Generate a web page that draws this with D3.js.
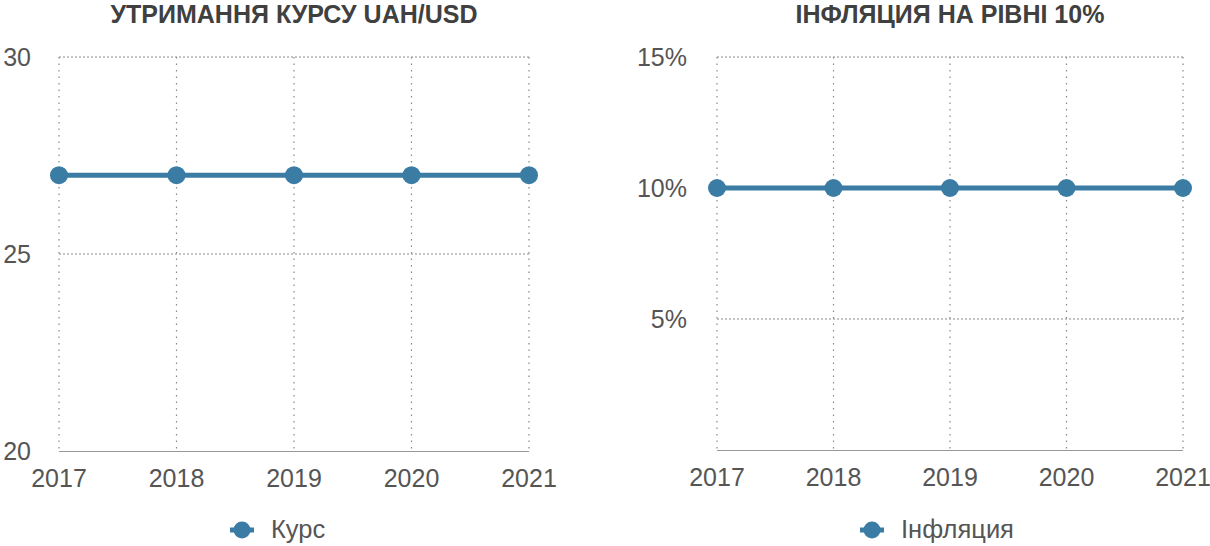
<!DOCTYPE html>
<html><head><meta charset="utf-8">
<script src="https://cdn.jsdelivr.net/npm/d3@7"></script>
<style>
body{margin:0;background:#fff;}
svg text{font-family:"Liberation Sans",Arial,sans-serif;}
</style></head>
<body><svg id="c" width="1210" height="546"></svg>
<script>
const years = ["2017","2018","2019","2020","2021"];
const rateValues = [27,27,27,27,27];
const inflationValues = [10,10,10,10,10];
const rateTicks = [20,25,30];
const inflationTicks = [5,10,15];
const titles = ["УТРИМАННЯ КУРСУ UAH/USD","ІНФЛЯЦИЯ НА РІВНІ 10%"];
const seriesNames = ["Курс","Інфляция"];

const svg = d3.select("#c");
const color = "#3a7ca3";

function panel(cfg){
  const g = svg.append("g");
  const x = d3.scalePoint().domain(years).range([cfg.x0, cfg.x1]);
  const y = d3.scaleLinear().domain(cfg.domain).range([cfg.yb, 57]);
  // title
  g.append("text").attr("x",cfg.tx).attr("y",23).attr("text-anchor","middle")
    .attr("font-size",25).attr("font-weight","bold").attr("fill","#404040").text(cfg.title);
  // horizontal grid
  g.selectAll(".hg").data(cfg.ticks.filter(t=>t!==cfg.domain[0])).enter().append("line")
    .attr("x1",cfg.x0).attr("x2",cfg.x1).attr("y1",d=>y(d)).attr("y2",d=>y(d))
    .attr("stroke","#888").attr("stroke-width",1).attr("stroke-dasharray","2,2");
  // vertical grid
  g.selectAll(".vg").data(years).enter().append("line")
    .attr("x1",d=>x(d)).attr("x2",d=>x(d)).attr("y1",57).attr("y2",cfg.yb)
    .attr("stroke","#888").attr("stroke-width",1.2).attr("stroke-dasharray","1.5,5");
  // baseline
  g.append("line").attr("x1",cfg.x0).attr("x2",cfg.x1).attr("y1",cfg.yb+0.5).attr("y2",cfg.yb+0.5)
    .attr("stroke","#999").attr("stroke-width",1.2);
  // y labels
  g.selectAll(".yl").data(cfg.ticks).enter().append("text")
    .attr("x",cfg.lx).attr("y",d=>y(d)+9).attr("text-anchor","end")
    .attr("font-size",25).attr("fill","#555").text(d=>d+cfg.suffix);
  // x labels
  g.selectAll(".xl").data(years).enter().append("text")
    .attr("x",d=>x(d)).attr("y",cfg.yb+36).attr("text-anchor","middle")
    .attr("font-size",25).attr("fill","#555").text(d=>d);
  // line
  const pts = years.map((yr,i)=>[yr,cfg.values[i]]);
  g.append("path").datum(pts).attr("fill","none").attr("stroke",color).attr("stroke-width",5)
    .attr("d",d3.line().x(d=>x(d[0])).y(d=>y(d[1])));
  g.selectAll(".pt").data(pts).enter().append("circle")
    .attr("cx",d=>x(d[0])).attr("cy",d=>y(d[1])).attr("r",9).attr("fill",color);
  // legend
  const lg = g.append("g").attr("transform",`translate(${cfg.legx},530)`);
  lg.append("line").attr("x1",-12).attr("x2",12).attr("stroke",color).attr("stroke-width",5);
  lg.append("circle").attr("r",8.5).attr("fill",color);
  lg.append("text").attr("x",29).attr("y",8).attr("font-size",25.5).attr("fill","#555").text(cfg.name);
}

panel({x0:59,x1:529,yb:451,domain:[20,30],ticks:rateTicks,values:rateValues,suffix:"",
  lx:31,tx:294,title:titles[0],legx:242,name:seriesNames[0]});
panel({x0:717,x1:1183,yb:450,domain:[0,15],ticks:inflationTicks,values:inflationValues,suffix:"%",
  lx:687,tx:950,title:titles[1],legx:872,name:seriesNames[1]});
</script></body></html>
